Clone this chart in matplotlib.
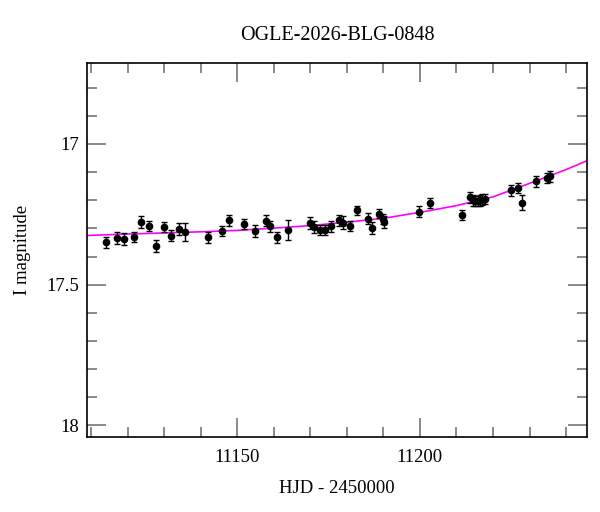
import numpy as np
import matplotlib
matplotlib.use('Agg')
import matplotlib.pyplot as plt
from matplotlib.ticker import MultipleLocator

# photometry (HJD - 2450000, I mag, error)
hjd = [11114.0, 11117.0, 11119.0, 11121.9, 11123.8, 11125.9, 11127.9, 11129.9,
       11131.9, 11134.0, 11135.8, 11142.0, 11145.9, 11147.9, 11151.8, 11154.8,
       11157.8, 11159.0, 11161.0, 11163.8, 11169.9, 11171.0, 11172.8, 11174.0,
       11175.7, 11177.9, 11179.0, 11180.9, 11182.8, 11185.8, 11187.0, 11188.8,
       11189.9, 11190.1, 11199.7, 11202.8, 11211.6, 11213.8, 11214.4, 11215.1,
       11215.8, 11216.4, 11217.1, 11217.8, 11224.8, 11226.8, 11227.9, 11231.8,
       11234.7, 11235.6]
mag = [17.350, 17.334, 17.339, 17.330, 17.277, 17.291, 17.362, 17.295,
       17.326, 17.303, 17.313, 17.332, 17.309, 17.271, 17.284, 17.310,
       17.273, 17.292, 17.332, 17.306, 17.280, 17.295, 17.305, 17.305,
       17.292, 17.271, 17.279, 17.291, 17.236, 17.265, 17.298, 17.247,
       17.267, 17.278, 17.240, 17.209, 17.252, 17.190, 17.200, 17.203,
       17.203, 17.200, 17.198, 17.195, 17.165, 17.156, 17.208, 17.133,
       17.121, 17.115]
err = [0.021, 0.021, 0.021, 0.019, 0.020, 0.019, 0.021, 0.019,
       0.019, 0.021, 0.031, 0.019, 0.017, 0.019, 0.019, 0.021,
       0.019, 0.019, 0.019, 0.036, 0.021, 0.021, 0.017, 0.017,
       0.019, 0.019, 0.023, 0.019, 0.017, 0.019, 0.021, 0.017,
       0.019, 0.021, 0.019, 0.017, 0.018, 0.019, 0.019, 0.019,
       0.019, 0.019, 0.019, 0.019, 0.019, 0.019, 0.028, 0.019,
       0.019, 0.019]

# model curve
model_t = [11109, 11120, 11130, 11140, 11150, 11160, 11170, 11180,
           11190, 11200, 11210, 11220, 11230, 11240, 11246]
model_m = [17.325, 17.320, 17.316, 17.312, 17.307, 17.299, 17.290, 17.278,
           17.264, 17.243, 17.219, 17.188, 17.140, 17.091, 17.058]

plt.rcParams['font.family'] = ['Liberation Serif', 'DejaVu Serif']

fig = plt.figure(figsize=(6, 5.12), dpi=100)
ax = fig.add_axes([0.1455, 0.147, 0.8333, 0.7307])

ax.plot(model_t, model_m, color='#ff00ff', lw=1.2, zorder=2)
ax.errorbar(hjd, mag, yerr=err, fmt='o', color='black', ms=4.5,
            elinewidth=1, capsize=2.5, capthick=1, zorder=3)

ax.set_xlim(11109, 11245.8)
ax.set_ylim(18.04, 16.711)

ax.xaxis.set_major_locator(MultipleLocator(50))
ax.xaxis.set_minor_locator(MultipleLocator(10))
ax.yaxis.set_major_locator(MultipleLocator(0.5))
ax.yaxis.set_minor_locator(MultipleLocator(0.1))
ax.yaxis.set_major_formatter(plt.FuncFormatter(lambda v, p: '%g' % v))

ax.tick_params(which='both', direction='in', top=True, right=True,
               color='#808080', width=1.3, labelsize=13.5)
ax.tick_params(which='major', length=13.5)
ax.tick_params(which='minor', length=7)
ax.tick_params(axis='x', pad=9)
ax.tick_params(axis='y', pad=6)
for s in ax.spines.values():
    s.set_linewidth(1.2)

ax.set_xlabel('HJD - 2450000', fontsize=13.5, labelpad=10)
ax.set_ylabel('I magnitude', fontsize=13.5, labelpad=11)
ax.set_title('OGLE-2026-BLG-0848', fontsize=14.5, pad=16)

fig.savefig('out.png')
